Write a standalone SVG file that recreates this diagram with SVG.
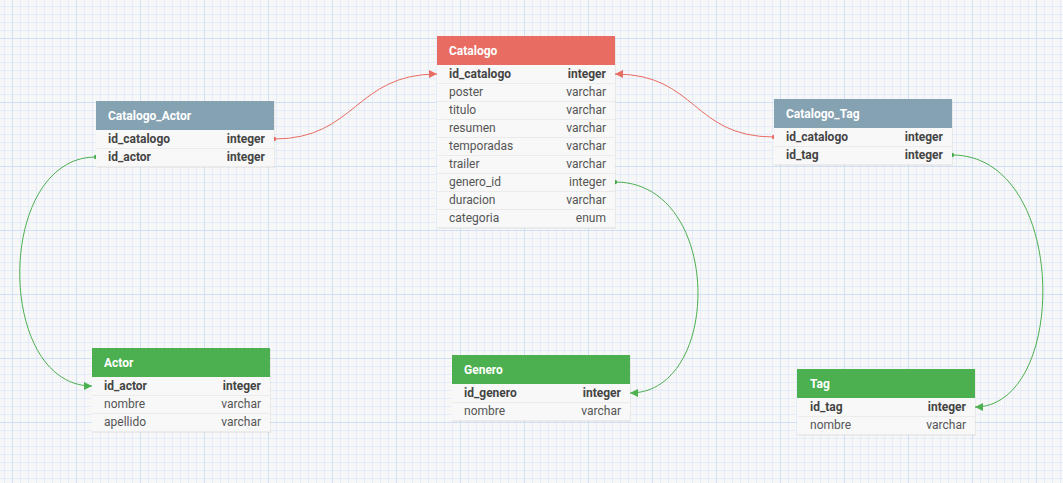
<svg xmlns="http://www.w3.org/2000/svg" width="1063" height="483" viewBox="0 0 1063 483">
<style>
.hdr{font-family:Roboto,"Liberation Sans",sans-serif;font-size:12px;font-weight:bold;fill:#ffffff}
.col{font-family:Roboto,"Liberation Sans",sans-serif;font-size:12px;fill:#555555}
.key{font-weight:bold;fill:#444444}
.typ{text-anchor:end}
.body{fill:#f8f8f8}
.sep{stroke:#ebebeb;stroke-width:1}
.red{fill:#e96c63}
.blue{fill:#85a2b3}
.green{fill:#4caf50}
.shadow{fill:#000000;fill-opacity:0.05}
.cr{fill:none;stroke:#e96c63;stroke-width:1}
.cg{fill:none;stroke:#4caf50;stroke-width:1}
</style>
<defs>
<pattern id="grid" x="12" y="38" width="64" height="64" patternUnits="userSpaceOnUse">
<path d="M8.5 0V64M16.5 0V64M24.5 0V64M32.5 0V64M40.5 0V64M48.5 0V64M56.5 0V64M0 8.5H64M0 16.5H64M0 24.5H64M0 32.5H64M0 40.5H64M0 48.5H64M0 56.5H64" stroke="#e3ecf8" stroke-width="1" fill="none"/>
<path d="M0.5 0V64M0 0.5H64" stroke="#d0e1f7" stroke-width="1" fill="none"/>
</pattern>
<marker id="arR" viewBox="0 0 8 8" refX="8" refY="4" markerWidth="8" markerHeight="8" markerUnits="userSpaceOnUse" orient="auto"><path d="M0 0L8 4L0 8Z" fill="#e96c63"/></marker>
<marker id="arG" viewBox="0 0 8 8" refX="8" refY="4" markerWidth="8" markerHeight="8" markerUnits="userSpaceOnUse" orient="auto"><path d="M0 0L8 4L0 8Z" fill="#4caf50"/></marker>
<marker id="dtR" viewBox="0 0 6 6" refX="3" refY="3" markerWidth="6" markerHeight="6" markerUnits="userSpaceOnUse" orient="auto"><circle cx="3" cy="3" r="2.2" fill="#e96c63"/></marker>
<marker id="dtG" viewBox="0 0 6 6" refX="3" refY="3" markerWidth="6" markerHeight="6" markerUnits="userSpaceOnUse" orient="auto"><circle cx="3" cy="3" r="2.2" fill="#4caf50"/></marker>
</defs>
<rect x="0" y="0" width="1063" height="483" fill="#f7f7f7"/>
<rect x="0" y="0" width="1063" height="483" fill="url(#grid)"/>

<g id="connectors">
<path class="cr" d="M274 139C356 139 355 74 437 74" marker-start="url(#dtR)" marker-end="url(#arR)"/>
<path class="cr" d="M774 137C692 137 697 74 615 74" marker-start="url(#dtR)" marker-end="url(#arR)"/>
<path class="cg" d="M96 157C-5 157 -5 386 92 386" marker-start="url(#dtG)" marker-end="url(#arG)"/>
<path class="cg" d="M615 182C723 182 723 393 630 393" marker-start="url(#dtG)" marker-end="url(#arG)"/>
<path class="cg" d="M952 155C1069 155 1069 407 975 407" marker-start="url(#dtG)" marker-end="url(#arG)"/>
</g>

<g id="Catalogo">
<rect class="shadow" x="438" y="37" width="178" height="192"/>
<rect class="body" x="437" y="65" width="178" height="162"/>
<rect class="red" x="437" y="36" width="178" height="29"/>
<text class="hdr" x="449" y="55">Catalogo</text>
<path class="sep" d="M437 83.5H615M437 101.5H615M437 119.5H615M437 137.5H615M437 155.5H615M437 173.5H615M437 191.5H615M437 209.5H615M437 227.5H615"/>
<text class="col key" x="449" y="78">id_catalogo</text><text class="col key typ" x="606" y="78">integer</text>
<text class="col" x="449" y="96">poster</text><text class="col typ" x="606" y="96">varchar</text>
<text class="col" x="449" y="114">titulo</text><text class="col typ" x="606" y="114">varchar</text>
<text class="col" x="449" y="132">resumen</text><text class="col typ" x="606" y="132">varchar</text>
<text class="col" x="449" y="150">temporadas</text><text class="col typ" x="606" y="150">varchar</text>
<text class="col" x="449" y="168">trailer</text><text class="col typ" x="606" y="168">varchar</text>
<text class="col" x="449" y="186">genero_id</text><text class="col typ" x="606" y="186">integer</text>
<text class="col" x="449" y="204">duracion</text><text class="col typ" x="606" y="204">varchar</text>
<text class="col" x="449" y="222">categoria</text><text class="col typ" x="606" y="222">enum</text>
</g>

<g id="Catalogo_Actor">
<rect class="shadow" x="97" y="102" width="178" height="66"/>
<rect class="body" x="96" y="130" width="178" height="36"/>
<rect class="blue" x="96" y="101" width="178" height="29"/>
<text class="hdr" x="108" y="120">Catalogo_Actor</text>
<path class="sep" d="M96 148.5H274M96 166.5H274"/>
<text class="col key" x="108" y="143">id_catalogo</text><text class="col key typ" x="265" y="143">integer</text>
<text class="col key" x="108" y="161">id_actor</text><text class="col key typ" x="265" y="161">integer</text>
</g>

<g id="Catalogo_Tag">
<rect class="shadow" x="775" y="100" width="178" height="66"/>
<rect class="body" x="774" y="128" width="178" height="36"/>
<rect class="blue" x="774" y="99" width="178" height="29"/>
<text class="hdr" x="786" y="118">Catalogo_Tag</text>
<path class="sep" d="M774 146.5H952M774 164.5H952"/>
<text class="col key" x="786" y="141">id_catalogo</text><text class="col key typ" x="943" y="141">integer</text>
<text class="col key" x="786" y="159">id_tag</text><text class="col key typ" x="943" y="159">integer</text>
</g>

<g id="Actor">
<rect class="shadow" x="93" y="349" width="178" height="84"/>
<rect class="body" x="92" y="377" width="178" height="54"/>
<rect class="green" x="92" y="348" width="178" height="29"/>
<text class="hdr" x="104" y="367">Actor</text>
<path class="sep" d="M92 395.5H270M92 413.5H270M92 431.5H270"/>
<text class="col key" x="104" y="390">id_actor</text><text class="col key typ" x="261" y="390">integer</text>
<text class="col" x="104" y="408">nombre</text><text class="col typ" x="261" y="408">varchar</text>
<text class="col" x="104" y="426">apellido</text><text class="col typ" x="261" y="426">varchar</text>
</g>

<g id="Genero">
<rect class="shadow" x="453" y="356" width="178" height="66"/>
<rect class="body" x="452" y="384" width="178" height="36"/>
<rect class="green" x="452" y="355" width="178" height="29"/>
<text class="hdr" x="464" y="374">Genero</text>
<path class="sep" d="M452 402.5H630M452 420.5H630"/>
<text class="col key" x="464" y="397">id_genero</text><text class="col key typ" x="621" y="397">integer</text>
<text class="col" x="464" y="415">nombre</text><text class="col typ" x="621" y="415">varchar</text>
</g>

<g id="Tag">
<rect class="shadow" x="798" y="370" width="178" height="66"/>
<rect class="body" x="797" y="398" width="178" height="36"/>
<rect class="green" x="797" y="369" width="178" height="29"/>
<text class="hdr" x="810" y="388">Tag</text>
<path class="sep" d="M797 416.5H975M797 434.5H975"/>
<text class="col key" x="810" y="411">id_tag</text><text class="col key typ" x="966" y="411">integer</text>
<text class="col" x="810" y="429">nombre</text><text class="col typ" x="966" y="429">varchar</text>
</g>
</svg>
